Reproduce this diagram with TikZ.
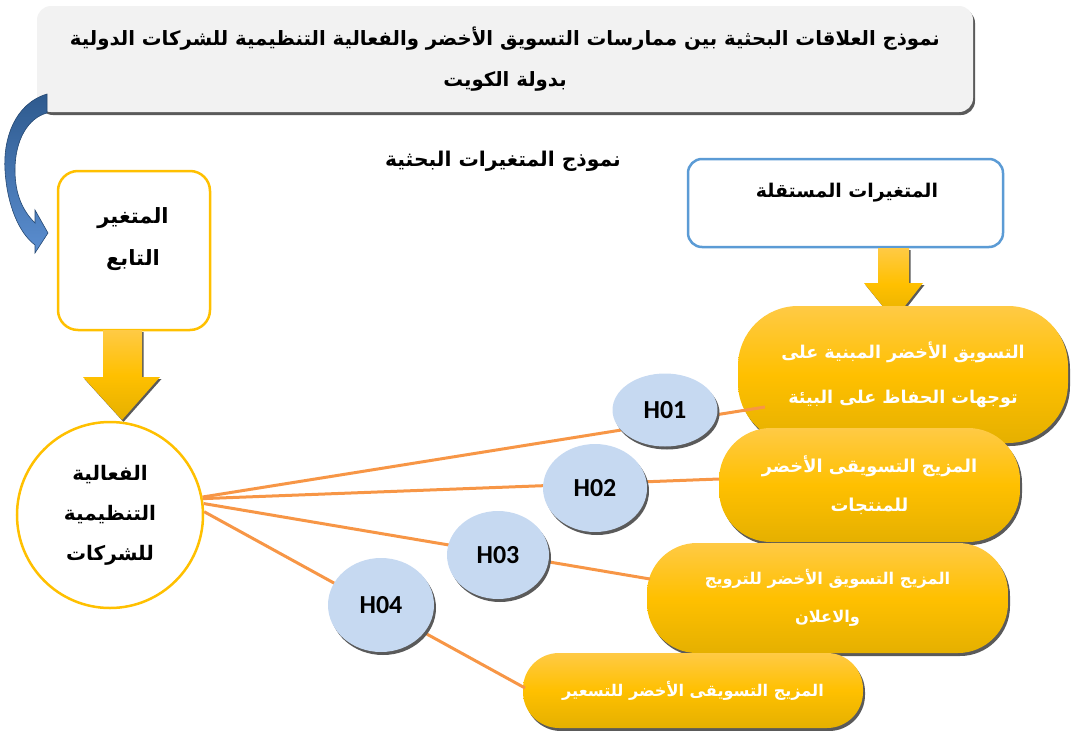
\documentclass[tikz,border=0pt]{standalone}
\usepackage{fontspec}
\setmainfont{Carlito}
\newfontfamily\arabicfont[Script=Arabic]{DejaVu Sans}
\TeXXeTstate=1
\usetikzlibrary{shapes.geometric,shadows}

\definecolor{goldtop}{HTML}{FFCA45}
\definecolor{goldmid}{HTML}{FFC000}
\definecolor{goldbot}{HTML}{E5B000}
\definecolor{boxgold}{HTML}{FFC000}
\definecolor{boxblue}{HTML}{5B9BD5}
\definecolor{linkorange}{HTML}{F79646}
\definecolor{hypblue}{HTML}{C6D9F1}
\definecolor{titlegray}{HTML}{F2F2F2}
\definecolor{shadegray}{HTML}{5A5A5A}
\definecolor{curvedark}{HTML}{2E5A8E}
\definecolor{curvelight}{HTML}{5B8ED0}

\newcommand{\artext}[1]{\beginR #1\endR}

\tikzset{
  shadowed/.style={drop shadow={shadow xshift=2pt,shadow yshift=-3pt,fill=shadegray,opacity=1}},
  artxt/.style={font=\arabicfont\bfseries\fontsize{#1}{#1}\selectfont},
  gold/.style={top color=goldtop,bottom color=goldbot,middle color=goldmid},
  stadium/.style={rectangle,gold,shadowed,rounded corners=#1,inner sep=0pt,
    align=center,text=white},
  hyp/.style={ellipse,fill=hypblue,shadowed,inner sep=0pt,
    font=\bfseries\fontsize{26}{26}\selectfont},
  link/.style={draw=linkorange,line width=3pt},
}

\begin{document}
\begin{tikzpicture}[x=1pt,y=-1pt]
\useasboundingbox (0,0) rectangle (1074,731);

% title
\node[rectangle,rounded corners=14pt,fill=titlegray,shadowed,minimum width=936pt,
  minimum height=106pt,align=center,artxt=19.7,text=black] (title) at (505,59)
  {\artext{نموذج العلاقات البحثية بين ممارسات التسويق الأخضر والفعالية التنظيمية للشركات الدولية}\\[20pt]
   \artext{بدولة الكويت}};

% curved arrow
\path[draw=curvedark!80!black,line width=0.6pt,top color=curvedark,bottom color=curvelight]
  (47,94) .. controls (14,104) and (3,140) .. (5,170)
  .. controls (7,205) and (19,233) .. (35,245) -- (35,253) -- (48,233) -- (35,210)
  -- (35,223) .. controls (23,211) and (15,195) .. (15,170)
  .. controls (15,140) and (28,118) .. (47,113) -- cycle;

\node[artxt=20.3] (sub) at (503,161) {\artext{نموذج المتغيرات البحثية}};

% dependent side
\node[rectangle,rounded corners=20pt,draw=boxgold,line width=2.5pt,fill=white,
  minimum width=152pt,minimum height=159pt] (dep) at (134,250.5) {};
\node[artxt=21,align=center] (deplbl) at (133,239)
  {\artext{المتغير}\\[20pt]\artext{التابع}};

\path[gold,drop shadow={shadow xshift=1.5pt,shadow yshift=-2pt,fill=shadegray,opacity=1}]
  (103,330) -- (142,330) -- (142,377) -- (160,377) -- (122,420)
  -- (83,377) -- (103,377) -- cycle;

\node[circle,draw=boxgold,line width=2.5pt,fill=white,minimum size=186pt,
  artxt=20,align=center] (eff) at (110,515)
  {\artext{الفعالية}\\[20pt]\artext{التنظيمية}\\[20pt]\artext{للشركات}};

% independent side
\node[rectangle,rounded corners=14pt,draw=boxblue,line width=2.5pt,fill=white,
  minimum width=315pt,minimum height=88pt] (ind) at (845.5,203) {};
\node[artxt=18.9] (indlbl) at (847,193) {\artext{المتغيرات المستقلة}};

\path[gold,drop shadow={shadow xshift=1.5pt,shadow yshift=-2pt,fill=shadegray,opacity=1}]
  (878,248) -- (909,248) -- (909,283) -- (923,283) -- (894,320)
  -- (864,283) -- (878,283) -- cycle;

\node[stadium=60pt,minimum width=330pt,minimum height=137pt,artxt=17.6] (s1) at (903,374.5)
  {\artext{التسويق الأخضر المبنية على}\\[26pt]\artext{توجهات الحفاظ على البيئة}};
\node[stadium=52pt,minimum width=301pt,minimum height=114pt,artxt=17.8] (s2) at (869.5,485)
  {\artext{المزيج التسويقى الأخضر}\\[20pt]\artext{للمنتجات}};
\node[stadium=50pt,minimum width=361pt,minimum height=110pt,artxt=16.2] (s3) at (827.5,598)
  {\artext{المزيج التسويق الأخضر للترويج}\\[21pt]\artext{والاعلان}};
\node[stadium=36pt,minimum width=340pt,minimum height=75pt,artxt=16.1] (s4) at (693,690.5)
  {\artext{المزيج التسويقى الأخضر للتسعير}};

\coordinate (t1) at (765,407);
\coordinate (t2) at (719,479);
\coordinate (t3) at (650,579);
\coordinate (t4) at (525,688);

\draw[link] (eff.11) -- (t1);
\draw[link] (eff.10) -- (t2);
\draw[link] (eff.7) -- (t3);
\draw[link] (eff.2) -- (t4);

\node[hyp,minimum width=105pt,minimum height=73pt] (h1) at (665,410) {H01};
\node[hyp,minimum width=104pt,minimum height=88pt] (h2) at (595,488) {H02};
\node[hyp,minimum width=102pt,minimum height=88pt] (h3) at (498,555) {H03};
\node[hyp,minimum width=106pt,minimum height=94pt] (h4) at (381,605) {H04};
\end{tikzpicture}
\end{document}
